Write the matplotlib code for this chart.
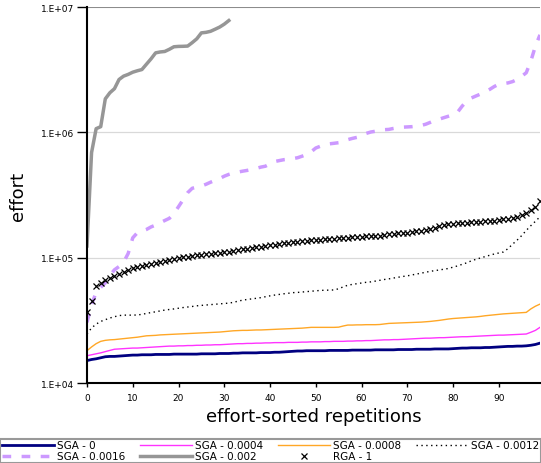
import numpy as np
import matplotlib
matplotlib.use("Agg")
import matplotlib.pyplot as plt

plt.rcParams['font.family'] = ['DejaVu Sans']

# effort (thousands) per sorted repetition
sga_0 = [15.1, 15.4, 15.6, 15.9, 16.2, 16.3, 16.3, 16.4, 16.5, 16.6,
         16.7, 16.7, 16.8, 16.8, 16.8, 16.9, 16.9, 16.9, 16.9, 17.0,
         17.0, 17.0, 17.0, 17.0, 17.0, 17.1, 17.1, 17.1, 17.1, 17.2,
         17.2, 17.2, 17.3, 17.3, 17.4, 17.4, 17.4, 17.4, 17.5, 17.5,
         17.5, 17.6, 17.6, 17.7, 17.8, 17.9, 18.0, 18.0, 18.1, 18.1,
         18.1, 18.1, 18.1, 18.2, 18.2, 18.2, 18.2, 18.2, 18.3, 18.3,
         18.3, 18.3, 18.3, 18.4, 18.4, 18.4, 18.4, 18.4, 18.5, 18.5,
         18.5, 18.5, 18.6, 18.6, 18.6, 18.6, 18.7, 18.7, 18.7, 18.7,
         18.8, 18.9, 19.0, 19.0, 19.1, 19.1, 19.1, 19.2, 19.2, 19.3,
         19.4, 19.5, 19.6, 19.6, 19.7, 19.7, 19.8, 20.0, 20.3, 20.8]

sga_0004 = [16.5, 16.8, 17.1, 17.4, 17.8, 18.2, 18.6, 18.7, 18.8, 18.9,
            19.0, 19.0, 19.1, 19.2, 19.3, 19.4, 19.5, 19.6, 19.7, 19.7,
            19.8, 19.8, 19.9, 19.9, 20.0, 20.0, 20.1, 20.1, 20.2, 20.2,
            20.3, 20.4, 20.5, 20.6, 20.6, 20.7, 20.7, 20.8, 20.8, 20.9,
            20.9, 21.0, 21.0, 21.0, 21.1, 21.1, 21.1, 21.2, 21.2, 21.3,
            21.3, 21.3, 21.4, 21.4, 21.5, 21.5, 21.5, 21.6, 21.6, 21.7,
            21.7, 21.8, 21.8, 21.9, 22.0, 22.1, 22.1, 22.2, 22.2, 22.3,
            22.4, 22.5, 22.6, 22.7, 22.8, 22.8, 22.9, 23.0, 23.0, 23.1,
            23.2, 23.3, 23.4, 23.4, 23.5, 23.6, 23.7, 23.8, 23.9, 24.0,
            24.1, 24.1, 24.2, 24.3, 24.4, 24.5, 24.6, 25.4, 26.3, 27.8]

sga_0008 = [18.1, 19.4, 20.6, 21.5, 21.9, 22.1, 22.2, 22.4, 22.6, 22.8,
            23.0, 23.2, 23.5, 23.8, 23.9, 24.0, 24.2, 24.3, 24.4, 24.5,
            24.6, 24.7, 24.8, 24.9, 25.0, 25.1, 25.2, 25.3, 25.4, 25.5,
            25.7, 25.9, 26.1, 26.2, 26.3, 26.3, 26.4, 26.5, 26.5, 26.6,
            26.7, 26.8, 26.9, 27.0, 27.1, 27.2, 27.3, 27.4, 27.6, 27.8,
            27.8, 27.8, 27.8, 27.8, 27.8, 27.9, 28.5, 29.0, 29.0, 29.1,
            29.1, 29.2, 29.2, 29.2, 29.3, 29.6, 29.9, 30.0, 30.1, 30.2,
            30.3, 30.4, 30.5, 30.6, 30.8, 31.0, 31.3, 31.6, 32.0, 32.4,
            32.7, 32.9, 33.1, 33.3, 33.5, 33.7, 34.0, 34.4, 34.7, 35.0,
            35.3, 35.6, 35.8, 36.0, 36.2, 36.4, 36.6, 39.0, 41.0, 42.6]

sga_0012 = [24.6, 27.5, 29.5, 31.0, 32.0, 33.0, 33.8, 34.5, 34.8, 34.8,
            34.8, 34.9, 35.3, 35.9, 36.5, 37.0, 37.6, 38.2, 38.6, 39.0,
            39.5, 40.0, 40.4, 40.8, 41.3, 41.6, 41.9, 42.2, 42.5, 42.8,
            43.1, 43.4, 44.0, 45.0, 45.8, 46.4, 46.9, 47.4, 48.0, 48.8,
            49.6, 50.3, 50.9, 51.5, 52.0, 52.6, 52.8, 53.2, 53.6, 54.0,
            54.4, 54.8, 55.0, 55.1, 55.3, 56.5, 58.5, 60.3, 61.2, 62.0,
            62.8, 63.6, 64.1, 65.0, 66.0, 67.0, 67.8, 68.8, 69.8, 70.8,
            71.6, 72.8, 74.0, 75.2, 76.5, 77.8, 78.8, 79.8, 80.9, 82.0,
            84.0, 86.0, 88.5, 91.0, 94.4, 97.0, 99.5, 102.0, 104.5, 107.0,
            109.0, 111.0, 118.0, 128.0, 138.0, 150.0, 165.0, 180.0, 195.0, 212.0]

sga_0016 = [30.5, 42, 53, 58, 63, 72, 80, 85, 92, 108,
            144, 158, 163, 168, 176, 182, 190, 198, 206, 225,
            255, 290, 330, 358, 365, 373, 385, 400, 414, 428,
            447, 462, 474, 482, 490, 497, 506, 516, 528, 537,
            560, 585, 595, 605, 610, 618, 627, 645, 665, 700,
            750, 775, 800, 810, 818, 827, 850, 875, 895, 912,
            935, 980, 1006, 1020, 1040, 1050, 1056, 1075, 1090, 1100,
            1105, 1110, 1120, 1135, 1160, 1200, 1245, 1275, 1310, 1345,
            1380, 1450, 1620, 1780, 1880, 1950, 2020, 2100, 2200, 2320,
            2420, 2450, 2480, 2540, 2640, 2800, 2990, 3700, 4870, 6000]

sga_002 = [124, 690, 1070, 1110, 1850, 2070, 2230, 2640, 2810, 2900,
           3020, 3100, 3170, 3500, 3860, 4310, 4380, 4420, 4600, 4820,
           4850, 4860, 4880, 5200, 5580, 6220, 6280, 6400, 6650, 6920,
           7300, 7800]

rga_1 = [36.6, 45.3, 58.9, 62.6, 66.0, 69.0, 71.5, 74.0, 76.5, 79.5,
         82.5, 84.0, 86.0, 88.0, 89.5, 91.0, 92.5, 94.0, 95.5, 97.0,
         99.0, 100.5, 101.5, 103.0, 104.5, 105.5, 106.5, 107.5, 108.5, 109.5,
         111.0, 112.0, 113.5, 115.0, 116.5, 118.0, 119.5, 121.0, 122.5, 124.0,
         125.5, 127.0, 128.5, 130.0, 131.5, 133.0, 134.5, 135.5, 136.5, 137.5,
         138.5, 139.5, 140.5, 141.5, 142.0, 142.5, 143.0, 144.0, 145.0, 146.0,
         147.0, 148.0, 148.5, 149.0, 150.0, 152.0, 154.0, 155.0, 156.0, 157.0,
         158.0, 160.0, 162.0, 164.0, 167.0, 170.0, 174.0, 178.0, 182.0, 185.0,
         186.5, 188.0, 189.5, 190.5, 191.5, 192.5, 193.5, 195.0, 196.5, 198.0,
         200.0, 202.0, 204.0, 207.0, 212.0, 218.0, 226.0, 238.0, 255.0, 285.0]

ytick_vals = [1e4, 1e5, 1e6, 1e7]
ytick_labels = ["1.E+04", "1.E+05", "1.E+06", "1.E+07"]
xtick_vals = list(range(0, 100, 10))


def k(v):
    return np.array(v) * 1000.0


fig = plt.figure(figsize=(5.41, 4.64), dpi=100)
ax = fig.add_axes([0.1608, 0.1724, 0.8373, 0.8103])

h0, = ax.plot(np.arange(len(sga_0)), k(sga_0), color="#000080", lw=2, label="SGA - 0")
h1, = ax.plot(np.arange(len(sga_0004)), k(sga_0004), color="#ff33ff", lw=1, label="SGA - 0.0004")
h2, = ax.plot(np.arange(len(sga_0008)), k(sga_0008), color="#ffa726", lw=1, label="SGA - 0.0008")
h3, = ax.plot(np.arange(len(sga_0012)), k(sga_0012), color="black", lw=1,
              linestyle=(0, (1, 2.5)), label="SGA - 0.0012")
h4, = ax.plot(np.arange(len(sga_0016)), k(sga_0016), color="#cc99ff", lw=2.5,
              linestyle=(0, (2.5, 3)), label="SGA - 0.0016")
h5, = ax.plot(np.arange(len(sga_002)), k(sga_002), color="#969696", lw=2.5, label="SGA - 0.002")
h6, = ax.plot(np.arange(len(rga_1)), k(rga_1), color="black", lw=0, marker="x",
              ms=4.5, mew=0.9, label="RGA - 1")

ax.set_yscale("log")
ax.set_ylim(1e4, 1e7)
ax.set_xlim(0, 99)
ax.set_yticks(ytick_vals)
ax.set_yticklabels(ytick_labels)
ax.yaxis.set_minor_locator(matplotlib.ticker.NullLocator())
ax.set_xticks(xtick_vals)
ax.tick_params(axis="y", labelsize=6.5, length=7, width=1, pad=2)
ax.tick_params(axis="x", labelsize=6.5, length=3, width=1, pad=4)

for v in ytick_vals[1:3]:
    ax.axhline(v, color="#d9d9d9", lw=0.9, zorder=0)
ax.axhline(1e7, color="#8c8c8c", lw=1.5, zorder=0)

ax.spines["right"].set_visible(False)
ax.spines["top"].set_visible(False)
ax.spines["left"].set_linewidth(1.5)
ax.spines["bottom"].set_linewidth(1.5)

ax.set_xlabel("effort-sorted repetitions", fontsize=13, labelpad=4)
ax.set_ylabel("effort", fontsize=13, labelpad=10)

handles = [h0, h4, h1, h5, h2, h6, h3]
leg = fig.legend(handles=handles, labels=[h.get_label() for h in handles],
                 ncol=4, loc="lower left", bbox_to_anchor=(0.0, 0.0, 1.0, 0.058),
                 mode="expand", fontsize=7.5, frameon=True, fancybox=False,
                 handlelength=5, handletextpad=0.3, borderpad=0.15,
                 labelspacing=0.1, columnspacing=0.5, borderaxespad=0.0)
leg.get_frame().set_edgecolor("#808080")
leg.get_frame().set_linewidth(1.5)

fig.savefig("out.png", dpi=100)
